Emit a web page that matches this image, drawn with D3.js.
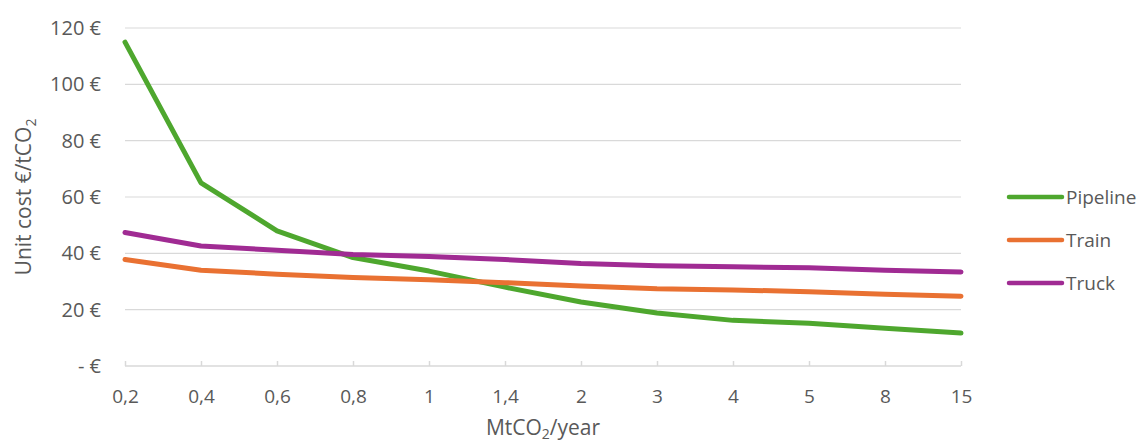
<!DOCTYPE html>
<html>
<head>
<meta charset="utf-8">
<script src="https://cdn.jsdelivr.net/npm/d3@7"></script>
<style>
  html, body { margin: 0; padding: 0; background: #fff; }
  svg { display: block; font-family: "Open Sans", Lato, sans-serif; }
</style>
</head>
<body>
<svg id="chart" width="1140" height="444"></svg>
<script>
// Throughput categories (MtCO2/year)
const capacities = ["0,2", "0,4", "0,6", "0,8", "1", "1,4", "2", "3", "4", "5", "8", "15"];

// Unit cost per transport mode (€/tCO2)
const pipeline = [115, 65, 48, 38.5, 33.7, 28, 22.7, 18.8, 16.2, 15.2, 13.4, 11.7];
const train    = [37.8, 34, 32.6, 31.4, 30.6, 29.6, 28.4, 27.4, 27, 26.4, 25.5, 24.8];
const truck    = [47.4, 42.6, 41.1, 39.6, 38.9, 37.8, 36.4, 35.6, 35.2, 34.9, 34, 33.4];

const seriesNames  = ["Pipeline", "Train", "Truck"];
const seriesColors = ["#4EA72E", "#E97132", "#A02B93"];
const yTicks = [0, 20, 40, 60, 80, 100, 120];

const series = [pipeline, train, truck].map((values, i) => ({
  name: seriesNames[i], color: seriesColors[i], values
}));

const svg = d3.select("#chart");
const plot = { left: 125, right: 961, top: 28, bottom: 366 };

const x = d3.scalePoint().domain(capacities).range([plot.left, plot.right]);
const y = d3.scaleLinear().domain([0, 120]).range([plot.bottom, plot.top]);

const textColor = "#595959";
const gridColor = "#d9d9d9";
const tickFont = 19;
const titleFont = 21;

// Horizontal gridlines
svg.append("g")
  .selectAll("line")
  .data(yTicks.filter(d => d > 0))
  .join("line")
  .attr("x1", plot.left).attr("x2", plot.right)
  .attr("y1", d => y(d)).attr("y2", d => y(d))
  .attr("stroke", gridColor).attr("stroke-width", 1.2);

// Y axis labels (currency format)
const yAxis = d3.axisLeft(y)
  .tickValues(yTicks)
  .tickSize(0)
  .tickPadding(0)
  .tickFormat(d => d === 0 ? "- €" : d + " €");
const gy = svg.append("g").attr("transform", `translate(${plot.left - 24},0)`).call(yAxis);
gy.select(".domain").remove();
gy.selectAll("text")
  .attr("fill", textColor)
  .attr("font-size", 20)
  .attr("font-family", "\"Open Sans\", Lato, sans-serif");

// X axis with upward tick marks
const xAxis = d3.axisBottom(x).tickSize(-5).tickPadding(0);
const gx = svg.append("g").attr("transform", `translate(0,${plot.bottom})`).call(xAxis);
gx.select(".domain")
  .attr("d", `M${plot.left},0H${plot.right}`)
  .attr("stroke", gridColor).attr("stroke-width", 1.5);
gx.selectAll(".tick line").attr("stroke", gridColor).attr("stroke-width", 1.5);
gx.selectAll("text")
  .attr("fill", textColor)
  .attr("font-size", tickFont)
  .attr("font-family", "\"Open Sans\", Lato, sans-serif")
  .attr("dy", null)
  .attr("y", 37);

// Series lines
const line = d3.line()
  .x((d, i) => x(capacities[i]))
  .y(d => y(d));

svg.append("g")
  .selectAll("path")
  .data(series)
  .join("path")
  .attr("d", d => line(d.values))
  .attr("fill", "none")
  .attr("stroke", d => d.color)
  .attr("stroke-width", 5)
  .attr("stroke-linejoin", "round")
  .attr("stroke-linecap", "round");

// Axis titles
const yTitle = svg.append("text")
  .attr("transform", `translate(31,${(plot.top + plot.bottom) / 2}) rotate(-90)`)
  .attr("text-anchor", "middle")
  .attr("fill", textColor)
  .attr("font-size", titleFont);
yTitle.append("tspan").text("Unit cost €/tCO");
yTitle.append("tspan").attr("font-size", 14).attr("dy", 5).text("2");

const xTitle = svg.append("text")
  .attr("x", (plot.left + plot.right) / 2)
  .attr("y", 435)
  .attr("text-anchor", "middle")
  .attr("fill", textColor)
  .attr("font-size", titleFont);
xTitle.append("tspan").text("MtCO");
xTitle.append("tspan").attr("font-size", 14).attr("dy", 4).text("2");
xTitle.append("tspan").attr("dy", -4).text("/year");

// Legend
const legend = svg.append("g")
  .selectAll("g")
  .data(series)
  .join("g")
  .attr("transform", (d, i) => `translate(1009,${197 + i * 43})`);
legend.append("line")
  .attr("x1", 0).attr("x2", 53)
  .attr("stroke", d => d.color)
  .attr("stroke-width", 4.5)
  .attr("stroke-linecap", "round");
legend.append("text")
  .attr("x", 57).attr("y", 7)
  .attr("fill", textColor)
  .attr("font-size", tickFont)
  .text(d => d.name);
</script>
</body>
</html>
